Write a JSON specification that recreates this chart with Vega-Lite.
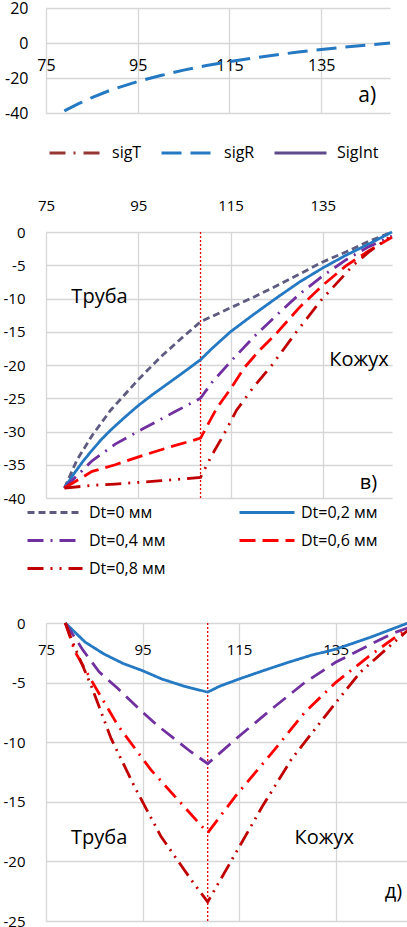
{
  "$schema": "https://vega.github.io/schema/vega-lite/v6.json",
  "background": "white",
  "padding": {"left": 3, "right": 0, "top": 0, "bottom": 0},
  "spacing": 36,
  "config": {
    "font": "Open Sans",
    "view": {"stroke": null},
    "axis": {"domain": false, "ticks": false, "gridColor": "#D6D6D6", "gridWidth": 1.3, "labelColor": "#000000", "labelFont": "Open Sans", "labelFlush": false, "labelOverlap": false, "tickCount": 30},
    "legend": {"labelFont": "Open Sans", "labelColor": "#000000", "symbolType": "stroke", "symbolStrokeWidth": 3},
    "text": {"font": "Open Sans", "color": "#000000"}
  },
  "datasets": {
    "panelA": [
      {"series": "sigR", "x": 79, "y": -38.8}, {"series": "sigR", "x": 82, "y": -34.8}, {"series": "sigR", "x": 85, "y": -31.2},
      {"series": "sigR", "x": 89, "y": -27}, {"series": "sigR", "x": 95, "y": -22}, {"series": "sigR", "x": 100, "y": -18.6},
      {"series": "sigR", "x": 105, "y": -15.5}, {"series": "sigR", "x": 110, "y": -12.9}, {"series": "sigR", "x": 115, "y": -10.6},
      {"series": "sigR", "x": 120, "y": -8.6}, {"series": "sigR", "x": 125, "y": -6.8}, {"series": "sigR", "x": 130, "y": -5.2},
      {"series": "sigR", "x": 135, "y": -3.7}, {"series": "sigR", "x": 140, "y": -2.4}, {"series": "sigR", "x": 145, "y": -1.2},
      {"series": "sigR", "x": 150, "y": 0}
    ],
    "panelB": [
      {"series": "Dt=0 мм", "x": 79, "y": -38.5}, {"series": "Dt=0 мм", "x": 81.7, "y": -34.3}, {"series": "Dt=0 мм", "x": 85, "y": -30.6},
      {"series": "Dt=0 мм", "x": 89, "y": -26.8}, {"series": "Dt=0 мм", "x": 95, "y": -22.2}, {"series": "Dt=0 мм", "x": 100, "y": -18.7},
      {"series": "Dt=0 мм", "x": 104, "y": -16.2}, {"series": "Dt=0 мм", "x": 108.5, "y": -13.5}, {"series": "Dt=0 мм", "x": 115, "y": -11.4},
      {"series": "Dt=0 мм", "x": 120, "y": -9.8}, {"series": "Dt=0 мм", "x": 125, "y": -8.1}, {"series": "Dt=0 мм", "x": 130, "y": -6.3},
      {"series": "Dt=0 мм", "x": 135, "y": -4.5}, {"series": "Dt=0 мм", "x": 140, "y": -3}, {"series": "Dt=0 мм", "x": 145, "y": -1.4},
      {"series": "Dt=0 мм", "x": 150, "y": 0},
      {"series": "Dt=0,2 мм", "x": 79, "y": -38.5}, {"series": "Dt=0,2 мм", "x": 81, "y": -36.4}, {"series": "Dt=0,2 мм", "x": 83, "y": -34.5},
      {"series": "Dt=0,2 мм", "x": 85, "y": -32.8}, {"series": "Dt=0,2 мм", "x": 87, "y": -31.2}, {"series": "Dt=0,2 мм", "x": 89, "y": -29.8},
      {"series": "Dt=0,2 мм", "x": 92, "y": -27.9}, {"series": "Dt=0,2 мм", "x": 95, "y": -26.1}, {"series": "Dt=0,2 мм", "x": 98, "y": -24.5},
      {"series": "Dt=0,2 мм", "x": 101, "y": -23}, {"series": "Dt=0,2 мм", "x": 105, "y": -21}, {"series": "Dt=0,2 мм", "x": 108.5, "y": -19.2},
      {"series": "Dt=0,2 мм", "x": 111, "y": -17.5}, {"series": "Dt=0,2 мм", "x": 115, "y": -15}, {"series": "Dt=0,2 мм", "x": 120, "y": -12.4},
      {"series": "Dt=0,2 мм", "x": 125, "y": -9.9}, {"series": "Dt=0,2 мм", "x": 130, "y": -7.5}, {"series": "Dt=0,2 мм", "x": 135, "y": -5.4},
      {"series": "Dt=0,2 мм", "x": 140, "y": -3.5}, {"series": "Dt=0,2 мм", "x": 145, "y": -1.8}, {"series": "Dt=0,2 мм", "x": 150, "y": 0},
      {"series": "Dt=0,4 мм", "x": 79, "y": -38.5}, {"series": "Dt=0,4 мм", "x": 85, "y": -34.4}, {"series": "Dt=0,4 мм", "x": 90, "y": -31.9},
      {"series": "Dt=0,4 мм", "x": 96, "y": -29.6}, {"series": "Dt=0,4 мм", "x": 103, "y": -27}, {"series": "Dt=0,4 мм", "x": 108.5, "y": -25},
      {"series": "Dt=0,4 мм", "x": 111, "y": -22.6}, {"series": "Dt=0,4 мм", "x": 115, "y": -19.5}, {"series": "Dt=0,4 мм", "x": 120, "y": -15.8},
      {"series": "Dt=0,4 мм", "x": 125, "y": -12.5}, {"series": "Dt=0,4 мм", "x": 130, "y": -9.3}, {"series": "Dt=0,4 мм", "x": 135, "y": -6.6},
      {"series": "Dt=0,4 мм", "x": 140, "y": -4.2}, {"series": "Dt=0,4 мм", "x": 145, "y": -2.2}, {"series": "Dt=0,4 мм", "x": 150, "y": -0.6},
      {"series": "Dt=0,6 мм", "x": 79, "y": -38.5}, {"series": "Dt=0,6 мм", "x": 85, "y": -36}, {"series": "Dt=0,6 мм", "x": 90, "y": -35},
      {"series": "Dt=0,6 мм", "x": 96, "y": -33.6}, {"series": "Dt=0,6 мм", "x": 102, "y": -32.3}, {"series": "Dt=0,6 мм", "x": 108.5, "y": -31},
      {"series": "Dt=0,6 мм", "x": 112, "y": -26.5}, {"series": "Dt=0,6 мм", "x": 115, "y": -23.6}, {"series": "Dt=0,6 мм", "x": 118, "y": -20.4},
      {"series": "Dt=0,6 мм", "x": 121, "y": -18}, {"series": "Dt=0,6 мм", "x": 125, "y": -15.2}, {"series": "Dt=0,6 мм", "x": 130, "y": -11.3},
      {"series": "Dt=0,6 мм", "x": 135, "y": -8}, {"series": "Dt=0,6 мм", "x": 140, "y": -5.1}, {"series": "Dt=0,6 мм", "x": 145, "y": -2.8},
      {"series": "Dt=0,6 мм", "x": 150, "y": -0.8},
      {"series": "Dt=0,8 мм", "x": 79, "y": -38.5}, {"series": "Dt=0,8 мм", "x": 85, "y": -38.1}, {"series": "Dt=0,8 мм", "x": 90, "y": -37.9},
      {"series": "Dt=0,8 мм", "x": 100, "y": -37.4}, {"series": "Dt=0,8 мм", "x": 108.5, "y": -36.9}, {"series": "Dt=0,8 мм", "x": 111, "y": -33.5},
      {"series": "Dt=0,8 мм", "x": 113.5, "y": -30.5}, {"series": "Dt=0,8 мм", "x": 116.3, "y": -26.8}, {"series": "Dt=0,8 мм", "x": 120, "y": -23.3},
      {"series": "Dt=0,8 мм", "x": 124, "y": -20}, {"series": "Dt=0,8 мм", "x": 129.3, "y": -15}, {"series": "Dt=0,8 мм", "x": 134.7, "y": -10.2},
      {"series": "Dt=0,8 мм", "x": 141.6, "y": -5}, {"series": "Dt=0,8 мм", "x": 145, "y": -3}, {"series": "Dt=0,8 мм", "x": 150, "y": -0.5}
    ],
    "panelD": [
      {"series": "Dt=0,2 мм", "x": 79, "y": 0}, {"series": "Dt=0,2 мм", "x": 83.1, "y": -1.6}, {"series": "Dt=0,2 мм", "x": 87, "y": -2.6},
      {"series": "Dt=0,2 мм", "x": 91, "y": -3.4}, {"series": "Dt=0,2 мм", "x": 95, "y": -4}, {"series": "Dt=0,2 мм", "x": 99, "y": -4.7},
      {"series": "Dt=0,2 мм", "x": 103.6, "y": -5.3}, {"series": "Dt=0,2 мм", "x": 108.5, "y": -5.8}, {"series": "Dt=0,2 мм", "x": 111, "y": -5.3},
      {"series": "Dt=0,2 мм", "x": 115, "y": -4.7}, {"series": "Dt=0,2 мм", "x": 120, "y": -4}, {"series": "Dt=0,2 мм", "x": 125.2, "y": -3.3},
      {"series": "Dt=0,2 мм", "x": 130, "y": -2.7}, {"series": "Dt=0,2 мм", "x": 135, "y": -2.2}, {"series": "Dt=0,2 мм", "x": 142.2, "y": -1.2},
      {"series": "Dt=0,2 мм", "x": 150, "y": 0},
      {"series": "Dt=0,4 мм", "x": 79, "y": 0}, {"series": "Dt=0,4 мм", "x": 82.7, "y": -2.3}, {"series": "Dt=0,4 мм", "x": 86, "y": -4.1},
      {"series": "Dt=0,4 мм", "x": 89.9, "y": -5.5}, {"series": "Dt=0,4 мм", "x": 94, "y": -7.1}, {"series": "Dt=0,4 мм", "x": 98.1, "y": -8.6},
      {"series": "Dt=0,4 мм", "x": 105, "y": -10.8}, {"series": "Dt=0,4 мм", "x": 108.5, "y": -11.8}, {"series": "Dt=0,4 мм", "x": 115, "y": -9.5},
      {"series": "Dt=0,4 мм", "x": 121.8, "y": -7.2}, {"series": "Dt=0,4 мм", "x": 128.6, "y": -5}, {"series": "Dt=0,4 мм", "x": 135, "y": -3.3},
      {"series": "Dt=0,4 мм", "x": 142.2, "y": -1.8}, {"series": "Dt=0,4 мм", "x": 147.3, "y": -0.8}, {"series": "Dt=0,4 мм", "x": 150, "y": -0.4},
      {"series": "Dt=0,6 мм", "x": 79, "y": 0}, {"series": "Dt=0,6 мм", "x": 81, "y": -2.4}, {"series": "Dt=0,6 мм", "x": 85.1, "y": -5.3},
      {"series": "Dt=0,6 мм", "x": 89.9, "y": -8.6}, {"series": "Dt=0,6 мм", "x": 96.7, "y": -12.3}, {"series": "Dt=0,6 мм", "x": 103.6, "y": -15.4},
      {"series": "Dt=0,6 мм", "x": 108.5, "y": -17.6}, {"series": "Dt=0,6 мм", "x": 114.3, "y": -14.5}, {"series": "Dt=0,6 мм", "x": 121.8, "y": -10.9},
      {"series": "Dt=0,6 мм", "x": 128.6, "y": -7.5}, {"series": "Dt=0,6 мм", "x": 135, "y": -5}, {"series": "Dt=0,6 мм", "x": 142.2, "y": -2.7},
      {"series": "Dt=0,6 мм", "x": 147.7, "y": -1.1}, {"series": "Dt=0,6 мм", "x": 150, "y": -0.5},
      {"series": "Dt=0,8 мм", "x": 79, "y": 0}, {"series": "Dt=0,8 мм", "x": 80.3, "y": -1.4}, {"series": "Dt=0,8 мм", "x": 84.4, "y": -5.3},
      {"series": "Dt=0,8 мм", "x": 88.5, "y": -9.7}, {"series": "Dt=0,8 мм", "x": 93.3, "y": -13.7}, {"series": "Dt=0,8 мм", "x": 98.8, "y": -17.9},
      {"series": "Dt=0,8 мм", "x": 105, "y": -21.5}, {"series": "Dt=0,8 мм", "x": 108.5, "y": -23.4}, {"series": "Dt=0,8 мм", "x": 113.6, "y": -19.8},
      {"series": "Dt=0,8 мм", "x": 119.8, "y": -15.4}, {"series": "Dt=0,8 мм", "x": 125.9, "y": -11.4}, {"series": "Dt=0,8 мм", "x": 135, "y": -6.7},
      {"series": "Dt=0,8 мм", "x": 140.2, "y": -4.1}, {"series": "Dt=0,8 мм", "x": 146.3, "y": -1.9}, {"series": "Dt=0,8 мм", "x": 150, "y": -0.6}
    ]
  },
  "vconcat": [
    {
      "width": 344,
      "height": 105,
      "layer": [
        {
          "data": {"name": "panelA"},
          "mark": {"type": "line", "strokeWidth": 3},
          "encoding": {
            "x": {"field": "x", "type": "quantitative", "scale": {"domain": [75, 150], "nice": false, "zero": false},
                  "axis": {"title": null, "values": [75, 95, 115, 135], "orient": "bottom", "offset": -70, "labelFontSize": 16, "labelPadding": 14}},
            "y": {"field": "y", "type": "quantitative", "scale": {"domain": [-40, 20], "nice": false},
                  "axis": {"title": null, "values": [-40, -20, 0, 20], "labelExpr": "'' + datum.value", "labelFontSize": 16, "labelPadding": 18}},
            "color": {"field": "series", "type": "nominal",
                      "scale": {"domain": ["sigT", "sigR", "SigInt"], "range": ["#953735", "#2479C2", "#5F4B8B"]},
                      "legend": {"title": null, "orient": "none", "legendX": 2, "legendY": 136, "direction": "horizontal", "columns": 3, "symbolSize": 2704, "labelFontSize": 16, "labelOffset": 9, "columnPadding": 18, "clipHeight": 18}},
            "strokeDash": {"field": "series", "type": "nominal",
                      "scale": {"domain": ["sigT", "sigR", "SigInt"], "range": [[16, 8, 2, 8], [20, 9], [1, 0]]},
                      "legend": {"title": null, "orient": "none", "legendX": 2, "legendY": 136, "direction": "horizontal", "columns": 3, "symbolSize": 2704, "labelFontSize": 16, "labelOffset": 9, "columnPadding": 18, "clipHeight": 18}}
          }
        },
        {
          "data": {"values": [{"label": "а)", "x": 147, "y": -30}]},
          "mark": {"type": "text", "align": "right", "baseline": "middle", "fontSize": 21},
          "encoding": {
            "x": {"field": "x", "type": "quantitative"},
            "y": {"field": "y", "type": "quantitative"},
            "text": {"field": "label"}
          }
        }
      ]
    },
    {
      "width": 346,
      "height": 266,
      "layer": [
        {
          "data": {"values": [{"x": 108.5}]},
          "mark": {"type": "rule", "color": "#E00000", "strokeWidth": 1.3, "strokeDash": [2, 2]},
          "encoding": {"x": {"field": "x", "type": "quantitative"}}
        },
        {
          "data": {"name": "panelB"},
          "mark": {"type": "line", "strokeWidth": 2.8},
          "encoding": {
            "x": {"field": "x", "type": "quantitative", "scale": {"domain": [75, 150], "nice": false, "zero": false},
                  "axis": {"title": null, "values": [75, 95, 115, 135], "orient": "top", "labelFontSize": 15, "labelPadding": 19}},
            "y": {"field": "y", "type": "quantitative", "scale": {"domain": [-40, 0], "nice": false},
                  "axis": {"title": null, "values": [-40, -35, -30, -25, -20, -15, -10, -5, 0], "labelExpr": "'' + datum.value", "labelFontSize": 15, "labelPadding": 21}},
            "color": {"field": "series", "type": "nominal",
                      "scale": {"domain": ["Dt=0 мм", "Dt=0,2 мм", "Dt=0,4 мм", "Dt=0,6 мм", "Dt=0,8 мм"], "range": ["#5E5B80", "#2479C2", "#7030A0", "#FF0000", "#C00000"]},
                      "legend": {"title": null, "orient": "none", "legendX": -23, "legendY": 269, "padding": 3, "direction": "horizontal", "columns": 2, "symbolSize": 3025, "labelFontSize": 16, "labelOffset": 5, "columnPadding": 72, "rowPadding": 11, "clipHeight": 17}},
            "strokeDash": {"field": "series", "type": "nominal",
                      "scale": {"domain": ["Dt=0 мм", "Dt=0,2 мм", "Dt=0,4 мм", "Dt=0,6 мм", "Dt=0,8 мм"], "range": [[7, 4], [1, 0], [16, 7, 2, 7], [16, 7], [16, 7, 2, 7, 2, 7]]},
                      "legend": {"title": null, "orient": "none", "legendX": -23, "legendY": 269, "padding": 3, "direction": "horizontal", "columns": 2, "symbolSize": 3025, "labelFontSize": 16, "labelOffset": 5, "columnPadding": 72, "rowPadding": 11, "clipHeight": 17}}
          }
        },
        {
          "data": {"values": [
            {"label": "Труба", "x": 80.5, "y": -9.8},
            {"label": "Кожух", "x": 136.4, "y": -19.2},
            {"label": "в)", "x": 143, "y": -37.7}
          ]},
          "mark": {"type": "text", "align": "left", "baseline": "middle", "fontSize": 20},
          "encoding": {
            "x": {"field": "x", "type": "quantitative"},
            "y": {"field": "y", "type": "quantitative"},
            "text": {"field": "label"}
          }
        }
      ]
    },
    {
      "width": 362,
      "height": 298,
      "layer": [
        {
          "data": {"values": [{"x": 108.5}]},
          "mark": {"type": "rule", "color": "#E00000", "strokeWidth": 1.3, "strokeDash": [2, 2]},
          "encoding": {"x": {"field": "x", "type": "quantitative"}}
        },
        {
          "data": {"name": "panelD"},
          "mark": {"type": "line", "strokeWidth": 2.8},
          "encoding": {
            "x": {"field": "x", "type": "quantitative", "scale": {"domain": [75, 150], "nice": false, "zero": false},
                  "axis": {"title": null, "values": [75, 95, 115, 135], "orient": "bottom", "offset": -298, "labelFontSize": 15, "labelPadding": 19}},
            "y": {"field": "y", "type": "quantitative", "scale": {"domain": [-25, 0], "nice": false},
                  "axis": {"title": null, "values": [-25, -20, -15, -10, -5, 0], "labelExpr": "'' + datum.value", "labelFontSize": 15, "labelPadding": 21}},
            "color": {"field": "series", "type": "nominal",
                      "scale": {"domain": ["Dt=0,2 мм", "Dt=0,4 мм", "Dt=0,6 мм", "Dt=0,8 мм"], "range": ["#2479C2", "#7030A0", "#FF0000", "#C00000"]},
                      "legend": null},
            "strokeDash": {"field": "series", "type": "nominal",
                      "scale": {"domain": ["Dt=0,2 мм", "Dt=0,4 мм", "Dt=0,6 мм", "Dt=0,8 мм"], "range": [[1, 0], [16, 8], [16, 7, 2, 7], [16, 6, 2, 6, 2, 6]]},
                      "legend": null}
          }
        },
        {
          "data": {"values": [
            {"label": "Труба", "x": 80.2, "y": -18},
            {"label": "Кожух", "x": 126.5, "y": -18},
            {"label": "д)", "x": 145.2, "y": -22.6}
          ]},
          "mark": {"type": "text", "align": "left", "baseline": "middle", "fontSize": 20},
          "encoding": {
            "x": {"field": "x", "type": "quantitative"},
            "y": {"field": "y", "type": "quantitative"},
            "text": {"field": "label"}
          }
        }
      ]
    }
  ],
  "resolve": {"scale": {"x": "independent", "y": "independent", "color": "independent", "strokeDash": "independent"}}
}
